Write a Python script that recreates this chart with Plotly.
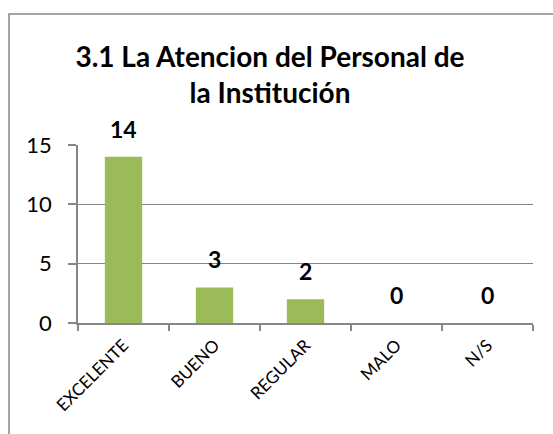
import plotly.graph_objects as go

categories = ["EXCELENTE", "BUENO", "REGULAR", "MALO", "N/S"]
values = [14, 3, 2, 0, 0]
title_text = "3.1 La Atencion del Personal de<br>la Institución"
y_ticks = [0, 5, 10, 15]

FONT = "Lato"
GRAY = "#868686"

fig = go.Figure()
fig.add_trace(go.Bar(
    x=categories, y=values, marker=dict(color="#9BBB59", line=dict(width=0)),
    width=0.41, hoverinfo="skip"))

for c, v in zip(categories, values):
    fig.add_annotation(x=c, y=v, text=f"<b>{v}</b>", showarrow=False,
                       yanchor="bottom", yshift=12,
                       font=dict(family=FONT, size=23, color="#000"))

W, H = 553, 434
L, R, T, B = 78, 20, 145, 111
pw, ph = W - L - R, H - T - B
# outer chart border
fig.add_shape(type="rect", xref="paper", yref="paper",
              x0=(9 - L) / pw, x1=1.2, y0=-1.2, y1=1 + (T - 14) / ph,
              line=dict(color=GRAY, width=1.5), layer="below")

fig.update_layout(
    width=W, height=H,
    margin=dict(l=L, r=R, t=T, b=B),
    paper_bgcolor="white", plot_bgcolor="white",
    showlegend=False,
    title=dict(text=f"<b>{title_text}</b>", x=270 / W, xanchor="center",
               y=1 - 67 / H, yanchor="middle", yref="container",
               font=dict(family=FONT, size=28, color="#000")),
    xaxis=dict(type="category", showline=True, linecolor=GRAY, linewidth=1.5,
               ticks="outside", tickson="boundaries", ticklen=6, tickcolor=GRAY,
               tickwidth=1.5, tickangle=-45, ticklabelstandoff=4,
               tickfont=dict(family=FONT, size=17, color="#000"),
               showgrid=False),
    yaxis=dict(range=[0, 15], tickvals=y_ticks, showline=True, linecolor=GRAY,
               linewidth=1.5, ticks="outside", ticklen=8, tickcolor=GRAY,
               tickwidth=1.5, showgrid=True, gridcolor=GRAY, gridwidth=1.2,
               zeroline=False, ticklabelstandoff=12,
               tickfont=dict(family=FONT, size=22, color="#000")),
)

fig.write_html("out.html",
               config={"displayModeBar": False},
               post_script="document.body.style.margin='0';"
                           "document.body.style.overflow='hidden';")
